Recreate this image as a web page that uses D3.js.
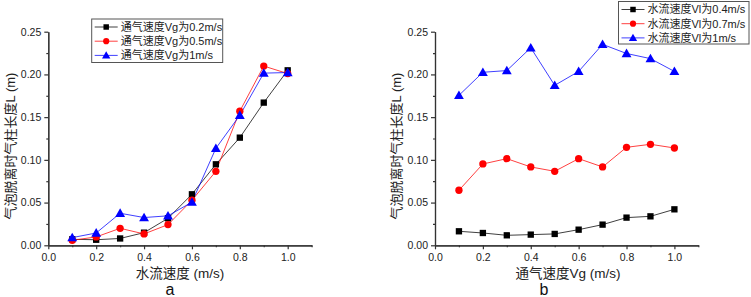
<!DOCTYPE html>
<html><head><meta charset="utf-8">
<script src="https://cdn.jsdelivr.net/npm/d3@7"></script>
<style>
body{margin:0;background:#fff;}
svg{display:block;font-family:"Liberation Sans",Arial,"Noto Sans CJK SC",sans-serif;}
</style></head><body>
<svg id="c" width="751" height="297"></svg>
<script>
const xValues = [0.1,0.2,0.3,0.4,0.5,0.6,0.7,0.8,0.9,1.0];
// Chart a: x = water velocity, series = aeration velocity Vg
const aLabels = ["通气速度Vg为0.2m/s","通气速度Vg为0.5m/s","通气速度Vg为1m/s"];
const aVg02 = [0.007,0.0065,0.008,0.0148,0.0316,0.0597,0.0948,0.126,0.167,0.2048];
const aVg05 = [0.0059,0.0098,0.0199,0.0133,0.0242,0.0527,0.0866,0.157,0.2098,0.201];
const aVg1  = [0.009,0.0144,0.0375,0.0325,0.0345,0.0505,0.1135,0.1522,0.2015,0.2022];
// Chart b: x = aeration velocity, series = water velocity Vl
const bLabels = ["水流速度Vl为0.4m/s","水流速度Vl为0.7m/s","水流速度Vl为1m/s"];
const bVl04 = [0.0164,0.0144,0.0117,0.0125,0.0133,0.0183,0.0242,0.0324,0.0339,0.0421];
const bVl07 = [0.0644,0.0952,0.1014,0.0917,0.0866,0.1014,0.0917,0.1147,0.1182,0.1139];
const bVl1  = [0.1755,0.2025,0.2045,0.2312,0.1872,0.2035,0.2352,0.2245,0.2185,0.2035];
const xTicks = [0.0,0.2,0.4,0.6,0.8,1.0];
const yTicks = [0.00,0.05,0.10,0.15,0.20,0.25];
const colors = ["#000000","#ff0000","#0000ff"];
const shapes = [d3.symbolSquare, d3.symbolCircle, d3.symbolTriangle];
const svg = d3.select("#c");

function panel(opt){
  const g = svg.append("g");
  const x = d3.scaleLinear().domain([0,1.1]).range([opt.x0, opt.x0 + 239.4*1.1]);
  const y = d3.scaleLinear().domain([0,0.25]).range([245.3, 31.7]);
  // axes
  const xa = d3.axisBottom(x).tickValues(xTicks).tickFormat(d3.format(".1f")).tickSizeInner(4).tickSizeOuter(0);
  const xm = d3.axisBottom(x).tickValues(d3.range(0.1,1.11,0.2)).tickFormat("").tickSizeInner(2).tickSizeOuter(0);
  const ya = d3.axisLeft(y).tickValues(yTicks).tickFormat(d3.format(".2f")).tickSizeInner(4).tickSizeOuter(0);
  const ym = d3.axisLeft(y).tickValues(d3.range(0.025,0.25,0.05)).tickFormat("").tickSizeInner(2).tickSizeOuter(0);
  [xa,xm].forEach(a=>{
    const ag = g.append("g").attr("transform",`translate(0,${y(0)})`).call(a);
    ag.selectAll("text").attr("font-size",10.5).attr("fill","#222").attr("dy","0.85em");
  });
  [ya,ym].forEach(a=>{
    const ag = g.append("g").attr("transform",`translate(${x(0)},0)`).call(a);
    ag.selectAll("text").attr("font-size",10.5).attr("fill","#222");
  });
  g.selectAll(".domain, .tick line").attr("stroke","#333").attr("stroke-width",1.2);
  // axis titles
  g.append("text").attr("x",opt.xTitleX).attr("y",278).attr("text-anchor","middle")
    .attr("font-size",13.5).attr("fill","#222").text(opt.xTitle);
  g.append("text").attr("transform",`translate(${opt.yTitleX},146) rotate(-90)`).attr("text-anchor","middle")
    .attr("dy","0.35em").attr("font-size",13).attr("fill","#222").text("气泡脱离时气柱长度L (m)");
  g.append("text").attr("x",opt.tagX).attr("y",295).attr("text-anchor","middle")
    .attr("font-size",16).attr("fill","#111").text(opt.tag);
  // series
  const line = d3.line().x((d,i)=>x(xValues[i])).y(d=>y(d));
  opt.series.forEach((s,k)=>{
    g.append("path").datum(s).attr("d",line).attr("fill","none")
      .attr("stroke",colors[k]).attr("stroke-width",1).attr("stroke-opacity",0.75);
  });
  opt.series.forEach((s,k)=>{
    const sz = k===0?40:(k===1?42:42);
    g.selectAll(null).data(s).enter().append("path")
      .attr("d",d3.symbol().type(shapes[k]).size(sz))
      .attr("transform",(d,i)=>`translate(${x(xValues[i])},${y(d) + (k===2?0.8:0)})`)
      .attr("fill",colors[k]);
  });
  // legend
  const L = opt.legend;
  g.append("rect").attr("x",L.x).attr("y",L.y).attr("width",L.w).attr("height",L.h)
    .attr("fill","#fff").attr("stroke","#555").attr("stroke-width",1);
  opt.labels.forEach((t,k)=>{
    const yy = L.y + 8 + k*14.2;
    g.append("line").attr("x1",L.x+3).attr("x2",L.x+26).attr("y1",yy).attr("y2",yy)
      .attr("stroke",colors[k]).attr("stroke-width",1).attr("stroke-opacity",0.75);
    g.append("path").attr("d",d3.symbol().type(shapes[k]).size(30))
      .attr("transform",`translate(${L.x+14.5},${yy + (k===2?0.6:0)})`).attr("fill",colors[k]);
    g.append("text").attr("x",L.x+29).attr("y",yy).attr("dy","0.36em")
      .attr("font-size",11).attr("fill","#222").text(t);
  });
}

panel({x0:48.3, series:[aVg02,aVg05,aVg1], labels:aLabels, xTitle:"水流速度 (m/s)", xTitleX:180,
  yTitleX:10, tag:"a", tagX:170, legend:{x:91.7,y:19,w:131,h:43.5}});
panel({x0:435, series:[bVl04,bVl07,bVl1], labels:bLabels, xTitle:"通气速度Vg (m/s)", xTitleX:568,
  yTitleX:396, tag:"b", tagX:544, legend:{x:618.5,y:1.5,w:130.5,h:42.5}});
</script>
</body></html>
